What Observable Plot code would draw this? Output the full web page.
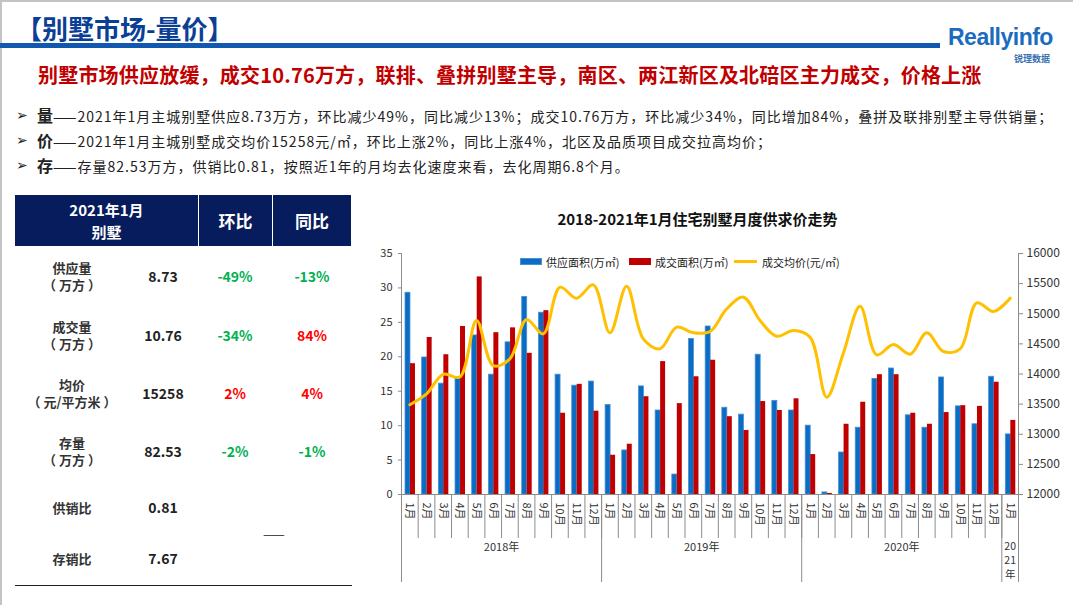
<!DOCTYPE html>
<html><head><meta charset="utf-8">
<script src="https://cdn.jsdelivr.net/npm/d3@7"></script>
<script src="https://cdn.jsdelivr.net/npm/@observablehq/plot@0.6"></script>
<style>
body{margin:0;width:1073px;height:605px;overflow:hidden;background:#fff;font-family:"Noto Sans CJK SC","Noto Sans",sans-serif;position:relative;color:#222}
.a{position:absolute;white-space:nowrap}
.c{position:absolute;text-align:center;white-space:nowrap;transform:translate(-50%,-50%);font-weight:bold;font-size:13px;line-height:17px}
.hd{position:absolute;background:#061c5c;color:#fff;font-weight:bold;display:flex;align-items:center;justify-content:center;text-align:center}
.sw{position:absolute}
.lg{position:absolute;font-size:11px;color:#222;white-space:nowrap;line-height:12px}
.bl{position:absolute;font-family:'DejaVu Sans',sans-serif;font-size:14px;line-height:22px;left:16px}
.bt{position:absolute;white-space:nowrap;font-size:14px;line-height:22px;left:37px;letter-spacing:1px}
.bt b{font-size:16px;letter-spacing:0}
</style></head><body>
<div class="a" style="left:0;top:0;width:1073px;height:2px;background:#c4c4c4"></div>
<div class="a" style="left:0;top:0;width:2px;height:605px;background:#c4c4c4"></div>
<div class="a" style="left:16px;top:10px;font-size:26px;font-weight:bold;color:#0b3f95;line-height:36px">【别墅市场-量价】</div>
<div class="a" style="left:0;top:43px;width:940px;height:5px;background:#1159b0"></div>
<div class="a" style="left:948px;top:24px;font-size:23px;font-weight:bold;color:#1b6cc0;font-family:'Liberation Sans',sans-serif;letter-spacing:-0.5px">Reallyinfo</div>
<div class="a" style="left:1014px;top:52px;font-size:9px;color:#3a6fb0;font-weight:bold">锐理数据</div>
<div class="a" style="left:38px;top:60px;font-size:20px;font-weight:bold;color:#c00000;line-height:30px;letter-spacing:0.2px">别墅市场供应放缓，成交10.76万方，联排、叠拼别墅主导，南区、两江新区及北碚区主力成交，价格上涨</div>
<div class="bl" style="top:104px">➢</div>
<div class="bt" style="top:104px"><b>量</b>——2021年1月主城别墅供应8.73万方，环比减少49%，同比减少13%；成交10.76万方，环比减少34%，同比增加84%，叠拼及联排别墅主导供销量；</div>
<div class="bl" style="top:129px">➢</div>
<div class="bt" style="top:129px"><b>价</b>——2021年1月主城别墅成交均价15258元/㎡，环比上涨2%，同比上涨4%，北区及品质项目成交拉高均价；</div>
<div class="bl" style="top:154px">➢</div>
<div class="bt" style="top:154px"><b>存</b>——存量82.53万方，供销比0.81，按照近1年的月均去化速度来看，去化周期6.8个月。</div>

<div class="hd" style="left:15px;top:195px;width:183px;height:51px;font-size:15px;line-height:22px">2021年1月<br>别墅</div>
<div class="hd" style="left:199px;top:195px;width:73px;height:51px;font-size:17px">环比</div>
<div class="hd" style="left:273px;top:195px;width:78px;height:51px;font-size:17px">同比</div>
<div id="tbl"></div>
<div class="a" style="left:15px;top:585px;width:337px;height:1px;background:#222"></div>

<div class="a" style="left:0;top:208px;width:1395px;text-align:center;font-size:15px;font-weight:bold;color:#111">2018-2021年1月住宅别墅月度供求价走势</div>
<div id="chart" class="a" style="left:360px;top:240px"></div>
<div class="sw" style="left:520px;top:258px;width:22px;height:7px;background:#0a6cc2;border:1px solid #4a8fd6;box-sizing:border-box"></div>
<div class="lg" style="left:546px;top:256px">供应面积(万㎡)</div>
<div class="sw" style="left:629px;top:258px;width:22px;height:7px;background:#c00000"></div>
<div class="lg" style="left:655px;top:256px">成交面积(万㎡)</div>
<div class="sw" style="left:734px;top:260px;width:23px;height:3px;background:#ffc000"></div>
<div class="lg" style="left:762px;top:256px">成交均价(元/㎡)</div>
<script>
// ---- table data ----
const rowLabels = ["供应量<br>（ 万方 ）","成交量<br>（ 万方 ）","均价<br>（ 元/平方米 ）","存量<br>（ 万方 ）","供销比","存销比"];
const rowValues = ["8.73","10.76","15258","82.53","0.81","7.67"];
const rowHb = ["-49%","-34%","2%","-2%","",""];
const rowTb = ["-13%","84%","4%","-1%","",""];

// ---- chart data ----
const monthLabels = ["1月","2月","3月","4月","5月","6月","7月","8月","9月","10月","11月","12月",
  "1月","2月","3月","4月","5月","6月","7月","8月","9月","10月","11月","12月",
  "1月","2月","3月","4月","5月","6月","7月","8月","9月","10月","11月","12月","1月"];
const yearLabels = ["2018年","2019年","2020年","20\n21\n年"];
const supply = [29.3,19.9,16.1,16.9,23.1,17.4,22.1,28.7,26.4,17.4,15.8,16.4,
  13.0,6.4,15.7,12.2,2.9,22.6,24.4,12.6,11.6,20.3,13.6,12.2,
  10.0,0.3,6.1,9.7,16.8,18.3,11.5,9.7,17.0,12.8,10.2,17.1,8.73];
const deal = [19.0,22.8,20.3,24.4,31.6,23.5,24.2,20.5,26.7,11.8,16.0,12.1,
  5.7,7.3,14.2,19.3,13.2,17.1,19.5,11.3,9.3,13.5,12.2,13.9,
  5.8,0.15,10.2,13.4,17.4,17.4,11.8,10.2,11.9,12.9,12.8,16.3,10.76];
const price = [13490,13670,13995,13950,14890,14140,14250,14905,14667,15440,15258,15480,
  14683,15457,14584,14418,14777,14683,14705,15080,15275,14888,14627,14722,
  14611,13615,14350,15125,14317,14490,14329,14683,14373,14418,15181,15037,15258];
const leftTicks = [0,5,10,15,20,25,30,35];
const rightTicks = [12000,12500,13000,13500,14000,14500,15000,15500,16000];

// table
const green = "#00b050", red = "#ff0000";
const rowY = [276,335,393,451,507,558];
const colX = [72,163,235,312];
const col = v => v.startsWith("-") ? green : red;
let html = "";
rowLabels.forEach((l,k)=>{
  html += `<div class="c" style="left:${colX[0]}px;top:${rowY[k]}px;color:#333">${l}</div>`;
  html += `<div class="c" style="left:${colX[1]}px;top:${rowY[k]}px;color:#222;font-size:14px">${rowValues[k]}</div>`;
  if (rowHb[k]) html += `<div class="c" style="left:${colX[2]}px;top:${rowY[k]}px;color:${col(rowHb[k])};font-size:14px">${rowHb[k]}</div>`;
  if (rowTb[k]) html += `<div class="c" style="left:${colX[3]}px;top:${rowY[k]}px;color:${col(rowTb[k])};font-size:14px">${rowTb[k]}</div>`;
});
html += `<div class="c" style="left:274px;top:533px;color:#222;font-weight:normal">——</div>`;
document.getElementById("tbl").innerHTML = html;

// chart
const pMin = rightTicks[0], pMax = rightTicks[rightTicks.length-1], yMax = leftTicks[leftTicks.length-1];
const toLeft = p => (p - pMin) / (pMax - pMin) * yMax;
const data = supply.map((s,i)=>({i, s, d: deal[i], p: price[i], m: monthLabels[i]}));
const n = data.length;
const yearStart = [0,12,24,36];
const yearEnd = [12,24,36,37];
const years = yearLabels.map((t,k)=>({t, x:(yearStart[k]+yearEnd[k])/2, multi: t.includes("\n")}));
const pxPerUnit = 241 / yMax;
const gray = "#8c8c8c";
const chart = Plot.plot({
  width: 713, height: 360,
  marginLeft: 41, marginRight: 55, marginTop: 13, marginBottom: 106,
  x: {domain: [0, n], axis: null},
  y: {domain: [0, yMax], axis: null},
  style: {fontFamily: '"Noto Sans CJK SC","Noto Sans",sans-serif', fontSize: "11px", color: "#333", background: "transparent", overflow: "visible"},
  marks: [
    Plot.rectY(data, {x1: d=>d.i, x2: d=>d.i+1, y: "s", fill: "#0a6cc2", stroke: "#4a8fd6", strokeWidth: 0.8, insetLeft: 4, insetRight: 7.7}),
    Plot.rectY(data, {x1: d=>d.i, x2: d=>d.i+1, y: "d", fill: "#c00000", insetLeft: 9, insetRight: 2.7}),
    Plot.line(data, {x: d=>d.i+0.5, y: d=>toLeft(d.p), stroke: "#ffc000", strokeWidth: 3, curve: "catmull-rom"}),
    Plot.ruleY([0], {stroke: gray}),
    Plot.ruleX([0, n], {y1: 0, y2: yMax, stroke: gray}),
    Plot.axisY({anchor: "left", ticks: leftTicks, tickSize: 3, tickPadding: 6, stroke: gray, fontSize: 11, fill: "#333"}),
    Plot.axisY({anchor: "right", ticks: rightTicks.map(toLeft), tickFormat: d => String(Math.round(pMin + d/yMax*(pMax-pMin))), tickSize: 4, tickPadding: 4, stroke: gray, fontSize: 12, fill: "#333"}),
    Plot.ruleX(d3.range(n+1), {y1: 0, y2: -44/pxPerUnit, stroke: gray}),
    Plot.ruleX([...yearStart, n], {y1: 0, y2: -88/pxPerUnit, stroke: gray}),
    Plot.text(data, {x: d=>d.i+0.5, y: 0, text: "m", rotate: 90, textAnchor: "start", dy: 8, fontSize: 11, fill: "#333"}),
    Plot.text(years.filter(d=>!d.multi), {x: "x", y: 0, text: "t", dy: 53, fontSize: 11, fill: "#333"}),
    Plot.text(years.filter(d=>d.multi), {x: "x", y: 0, text: "t", dy: 45, lineAnchor: "top", lineHeight: 1.35, fontSize: 10.5, fill: "#333"})
  ]
});
document.getElementById("chart").appendChild(chart);
</script>
</body></html>
